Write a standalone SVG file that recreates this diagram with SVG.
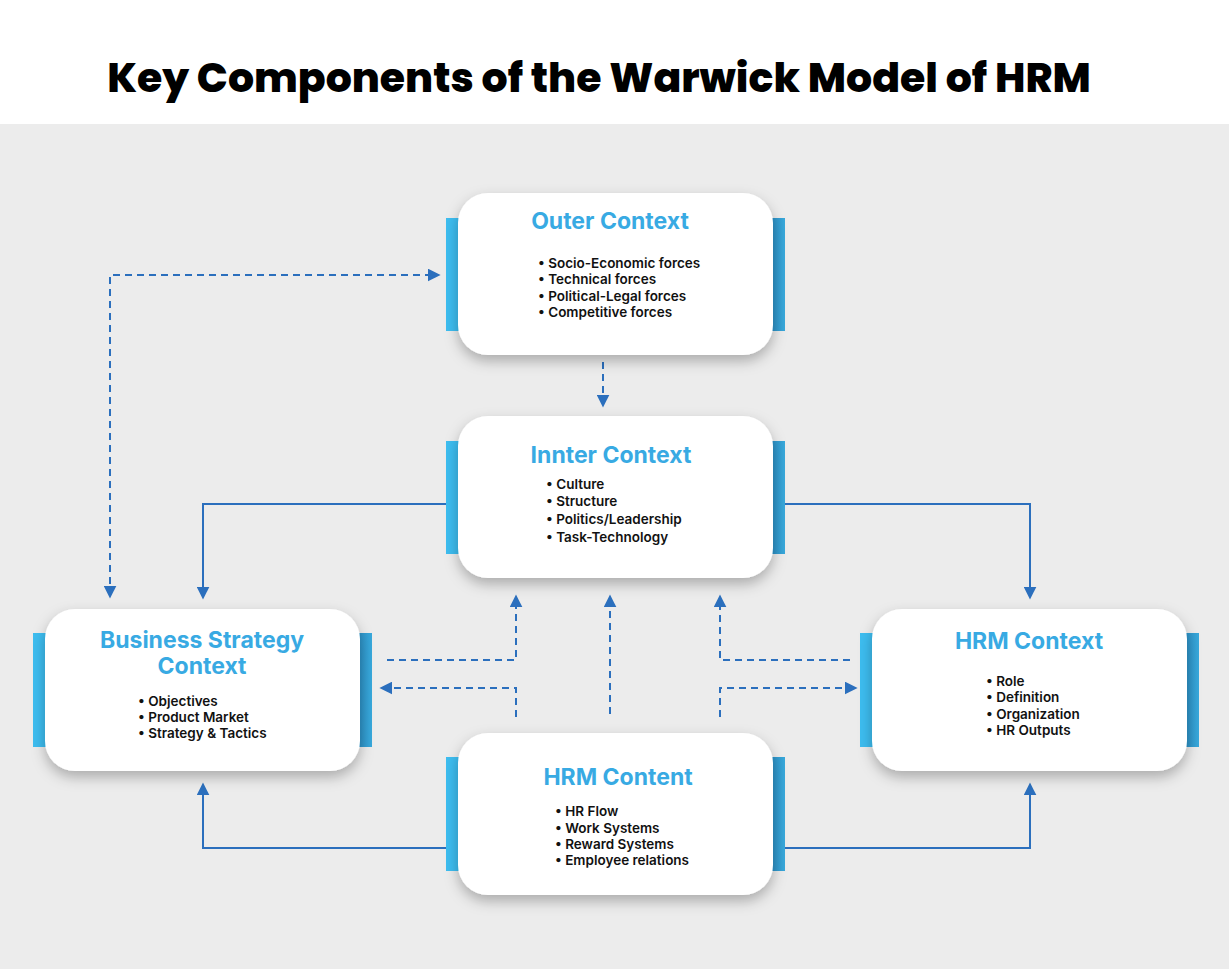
<svg xmlns="http://www.w3.org/2000/svg" width="1229" height="969" viewBox="0 0 1229 969">
<defs>
<filter id="sh" x="-20%" y="-20%" width="140%" height="150%"><feDropShadow dx="0" dy="6" stdDeviation="7" flood-color="#000" flood-opacity="0.28"/></filter>
<marker id="ah" viewBox="0 0 10 10" refX="8" refY="5" markerWidth="6.5" markerHeight="6.5" orient="auto-start-reverse" markerUnits="strokeWidth"><path d="M0,0 L10,5 L0,10 z" fill="#2b6fbd"/></marker>
<linearGradient id="rb" x1="0" x2="1"><stop offset="0" stop-color="#2c8fc4"/><stop offset="1" stop-color="#38a9dc"/></linearGradient>
</defs>
<style>
.box{fill:#fff;filter:url(#sh)}
.lb{fill:#3dbdf0}
.rbar{fill:url(#rb)}
.t{font-family:Inter,"Liberation Sans",sans-serif;font-weight:700;font-size:23px;fill:#38aae3;text-anchor:middle}
.b{font-family:Inter,"Liberation Sans",sans-serif;font-weight:600;font-size:13.5px;fill:#111}
.c{fill:none;stroke:#2b6fbd;stroke-width:2}
.d{stroke-dasharray:7 5}
</style>
<rect width="1229" height="969" fill="#fff"/>
<rect y="124" width="1229" height="845" fill="#ececec"/>
<text x="599" y="92" font-family="Poppins,Inter,'Liberation Sans',sans-serif" font-weight="800" font-size="41" text-anchor="middle" fill="#000">Key Components of the Warwick Model of HRM</text>
<g id="connectors">
<path class="c d" d="M110,596 V275 H438" marker-start="url(#ah)" marker-end="url(#ah)"/>
<path class="c d" d="M603,362 V405" marker-end="url(#ah)"/>
<path class="c" d="M446,504 H203 V597" marker-end="url(#ah)"/>
<path class="c" d="M785,504 H1030 V597" marker-end="url(#ah)"/>
<path class="c" d="M446,848 H203 V785" marker-end="url(#ah)"/>
<path class="c" d="M785,848 H1030 V785" marker-end="url(#ah)"/>
<path class="c d" d="M387,660 H516 V597" marker-end="url(#ah)"/>
<path class="c d" d="M516,717 V688 H382" marker-end="url(#ah)"/>
<path class="c d" d="M610,714 V597" marker-end="url(#ah)"/>
<path class="c d" d="M850,660 H720 V597" marker-end="url(#ah)"/>
<path class="c d" d="M720,717 V688 H855" marker-end="url(#ah)"/>
</g>
<g id="outer">
<rect class="lb" x="446" y="218" width="14" height="113"/><rect class="rbar" x="771" y="218" width="14" height="113"/>
<rect class="box" x="458" y="193" width="315" height="162" rx="30"/>
<text class="t" x="610" y="229">Outer Context</text>
<text class="b"><tspan x="538" y="268">• Socio-Economic forces</tspan><tspan x="538" y="284">• Technical forces</tspan><tspan x="538" y="301">• Political-Legal forces</tspan><tspan x="538" y="317">• Competitive forces</tspan></text>
</g>
<g id="inner">
<rect class="lb" x="446" y="441" width="14" height="113"/><rect class="rbar" x="771" y="441" width="14" height="113"/>
<rect class="box" x="458" y="416" width="315" height="162" rx="30"/>
<text class="t" x="611" y="463">Innter Context</text>
<text class="b"><tspan x="546" y="489">• Culture</tspan><tspan x="546" y="506">• Structure</tspan><tspan x="546" y="524">• Politics/Leadership</tspan><tspan x="546" y="542">• Task-Technology</tspan></text>
</g>
<g id="business">
<rect class="lb" x="33" y="633" width="14" height="114"/><rect class="rbar" x="358" y="633" width="14" height="114"/>
<rect class="box" x="45" y="609" width="315" height="162" rx="30"/>
<text class="t" x="202" y="648">Business Strategy</text>
<text class="t" x="202" y="674">Context</text>
<text class="b"><tspan x="138" y="706">• Objectives</tspan><tspan x="138" y="722">• Product Market</tspan><tspan x="138" y="738">• Strategy &amp; Tactics</tspan></text>
</g>
<g id="hrmcontext">
<rect class="lb" x="860" y="633" width="14" height="114"/><rect class="rbar" x="1185" y="633" width="14" height="114"/>
<rect class="box" x="872" y="609" width="315" height="162" rx="30"/>
<text class="t" x="1029" y="649">HRM Context</text>
<text class="b"><tspan x="986" y="686">• Role</tspan><tspan x="986" y="702">• Definition</tspan><tspan x="986" y="719">• Organization</tspan><tspan x="986" y="735">• HR Outputs</tspan></text>
</g>
<g id="hrmcontent">
<rect class="lb" x="446" y="757" width="14" height="114"/><rect class="rbar" x="771" y="757" width="14" height="114"/>
<rect class="box" x="458" y="733" width="315" height="162" rx="30"/>
<text class="t" x="618" y="785">HRM Content</text>
<text class="b"><tspan x="555" y="816">• HR Flow</tspan><tspan x="555" y="833">• Work Systems</tspan><tspan x="555" y="849">• Reward Systems</tspan><tspan x="555" y="865">• Employee relations</tspan></text>
</g>
</svg>
